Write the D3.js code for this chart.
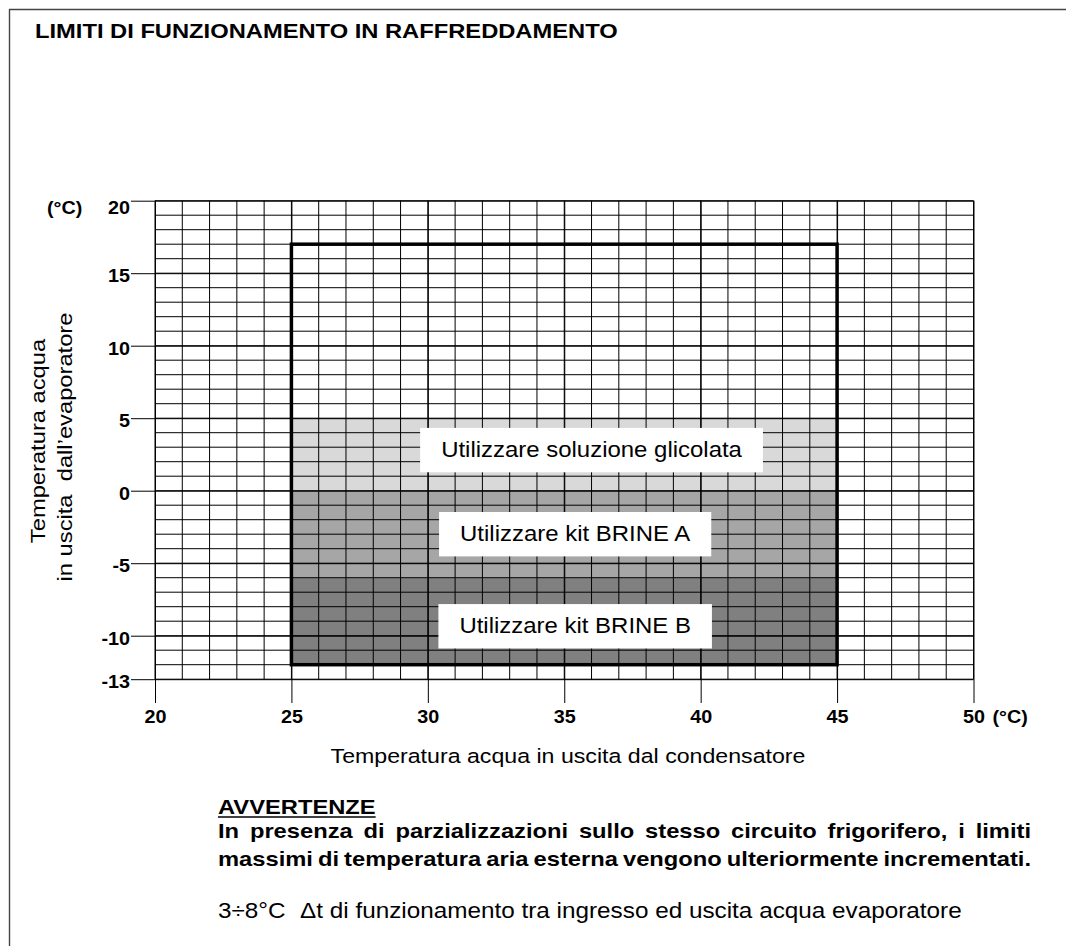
<!DOCTYPE html>
<html><head><meta charset="utf-8">
<script src="https://cdn.jsdelivr.net/npm/d3@7"></script>
<style>
body{margin:0;background:#fff}
svg{display:block}
text{font-family:"Liberation Sans",Arial,Helvetica,sans-serif;fill:#000}
</style>
</head><body>
<svg id="c" width="1066" height="946"></svg>
<script>
// ---- data ----
const xDomain = [20, 50];
const yDomain = [-13, 20];
const xTicks = [20, 25, 30, 35, 40, 45, 50];
const yTicks = [20, 15, 10, 5, 0, -5, -10, -13];
const envelopeX = [25, 45];
const envelopeY = [-12, 17];
const bandNames = ["Utilizzare soluzione glicolata", "Utilizzare kit BRINE A", "Utilizzare kit BRINE B"];
const bandLow = [0, -6, -12];
const bandHigh = [5, 0, -6];
const bandFill = ["#d9d9d9", "#a6a6a6", "#808080"];
const labelX = [36.0, 35.4, 35.4];
const labelY = [2.8, -3.0, -9.35];
const title = "LIMITI DI FUNZIONAMENTO IN RAFFREDDAMENTO";
const xTitle = "Temperatura acqua in uscita dal condensatore";
const yTitle = ["Temperatura acqua", "in uscita  dall\u2019evaporatore"];
const unit = "(°C)";
const noteHead = "AVVERTENZE";
const noteLines = ["In presenza di parzializzazioni sullo stesso circuito frigorifero, i limiti",
                   "massimi di temperatura aria esterna vengono ulteriormente incrementati."];
const deltaRange = "3÷8°C";
const deltaText = "Δt di funzionamento tra ingresso ed uscita acqua evaporatore";

// ---- layout ----
const SX = 1.13; // text stretch along the writing direction, as in the original
const svg = d3.select("#c");
const x = d3.scaleLinear().domain(xDomain).range([155, 973.5]);
const y = d3.scaleLinear().domain(yDomain).range([679.2, 200.7]);

// frame
svg.append("line").attr("x1", 9).attr("y1", 9.5).attr("x2", 1066).attr("y2", 9.5).attr("stroke", "#444").attr("stroke-width", 1.4);
svg.append("line").attr("x1", 9.5).attr("y1", 9).attr("x2", 9.5).attr("y2", 946).attr("stroke", "#444").attr("stroke-width", 1.4);

function stretched(g, txt, px, py, size, weight, anchor, rot) {
  return g.append("text").text(txt)
    .attr("transform", `translate(${px},${py}) ${rot ? "rotate(" + rot + ")" : ""} scale(${SX},1)`)
    .attr("font-size", size).attr("font-weight", weight || "normal")
    .attr("text-anchor", anchor || "start");
}

// title
stretched(svg, title, 35, 38.3, 21, "bold");

// bands
const bands = bandNames.map((n, i) => ({n, lo: bandLow[i], hi: bandHigh[i], fill: bandFill[i]}));
svg.append("g").selectAll("rect").data(bands).join("rect")
  .attr("x", x(envelopeX[0])).attr("width", x(envelopeX[1]) - x(envelopeX[0]))
  .attr("y", d => y(d.hi)).attr("height", d => y(d.lo) - y(d.hi))
  .attr("fill", d => d.fill);

// minor grid
const grid = svg.append("g").attr("stroke", "#000").attr("stroke-width", 1);
grid.selectAll("line.v").data(d3.range(xDomain[0], xDomain[1] + 1)).join("line")
  .attr("x1", d => x(d)).attr("x2", d => x(d)).attr("y1", y(yDomain[1])).attr("y2", y(yDomain[0]));
grid.selectAll("line.h").data(d3.range(yDomain[0], yDomain[1] + 1)).join("line")
  .attr("y1", d => y(d)).attr("y2", d => y(d)).attr("x1", x(xDomain[0])).attr("x2", x(xDomain[1]));

// y axis (ticks run across the plot and stick out on the left)
const yTickLen = x(xDomain[1]) - 131;
const yAx = svg.append("g").attr("transform", `translate(${x(xDomain[1])},0)`)
  .call(d3.axisLeft(y).tickValues(yTicks).tickSize(yTickLen).tickPadding(1).tickFormat(d => String(d)));
yAx.select(".domain").remove();
yAx.selectAll(".tick line").attr("stroke", "#000");
yAx.selectAll(".tick text").each(function(d) {
  const t = d3.select(this);
  t.attr("x", null).attr("dy", null).attr("fill", "#000")
   .attr("font-size", 17.5).attr("font-weight", "bold").attr("font-family", null)
   .attr("text-anchor", "end")
   .attr("transform", `translate(${-(yTickLen + 1)},${d === yDomain[1] ? 12.5 : 8.3}) scale(${SX},1)`);
});
// unit on y axis
stretched(svg, unit, 47, 213.5, 17.5, "bold");

// x axis
const xTickLen = 703 - y(yDomain[1]);
const xAx = svg.append("g").attr("transform", `translate(0,${y(yDomain[1])})`)
  .call(d3.axisBottom(x).tickValues(xTicks).tickSize(xTickLen).tickPadding(0).tickFormat(d => String(d)));
xAx.select(".domain").remove();
xAx.selectAll(".tick line").attr("stroke", "#000");
xAx.selectAll(".tick text").each(function() {
  d3.select(this).attr("y", null).attr("dy", null).attr("fill", "#000")
   .attr("font-size", 17.5).attr("font-weight", "bold").attr("font-family", null)
   .attr("text-anchor", "middle")
   .attr("transform", `translate(0,${723 - y(yDomain[1])}) scale(${SX},1)`);
});
stretched(svg, unit, x(xDomain[1]) + 19, 723, 17.5, "bold");

// label boxes
const lab = svg.append("g");
bands.forEach((b, i) => {
  const cx = x(labelX[i]), cy = y(labelY[i]);
  const t = stretched(lab, b.n, cx, cy + 7, 21.2, "normal", "middle");
  const w = t.node().getComputedTextLength() * SX + 42;
  lab.insert("rect", "text").attr("x", cx - w / 2).attr("y", cy - 22.2).attr("width", w).attr("height", 44.4).attr("fill", "#fff");
});

// envelope
svg.append("rect")
  .attr("x", x(envelopeX[0])).attr("y", y(envelopeY[1]))
  .attr("width", x(envelopeX[1]) - x(envelopeX[0])).attr("height", y(envelopeY[0]) - y(envelopeY[1]))
  .attr("fill", "none").attr("stroke", "#000").attr("stroke-width", 3.5);

// axis titles
stretched(svg, xTitle, 568, 763, 20.5, "normal", "middle");
stretched(svg, yTitle[0], 44.5, 441, 21, "normal", "middle", -90);
stretched(svg, yTitle[1], 72, 447, 21, "normal", "middle", -90).style("white-space", "pre");

// notes
const head = stretched(svg, noteHead, 218, 814.3, 21, "bold");
const hw = head.node().getComputedTextLength() * SX;
svg.append("line").attr("x1", 218).attr("x2", 218 + hw).attr("y1", 817).attr("y2", 817).attr("stroke", "#000").attr("stroke-width", 1.6);
const lineBase = [838.4, 866];
noteLines.forEach((s, i) => {
  const t = stretched(svg, s, 218, lineBase[i], 21, "bold");
  const nat = t.node().getComputedTextLength();
  const target = (1031 - 218) / SX;
  const nsp = s.split(" ").length - 1;
  t.attr("word-spacing", (target - nat) / nsp);
});
stretched(svg, deltaRange, 218, 918, 21.5, "normal");
stretched(svg, deltaText, 300, 918, 21.5, "normal");
</script>
</body></html>
